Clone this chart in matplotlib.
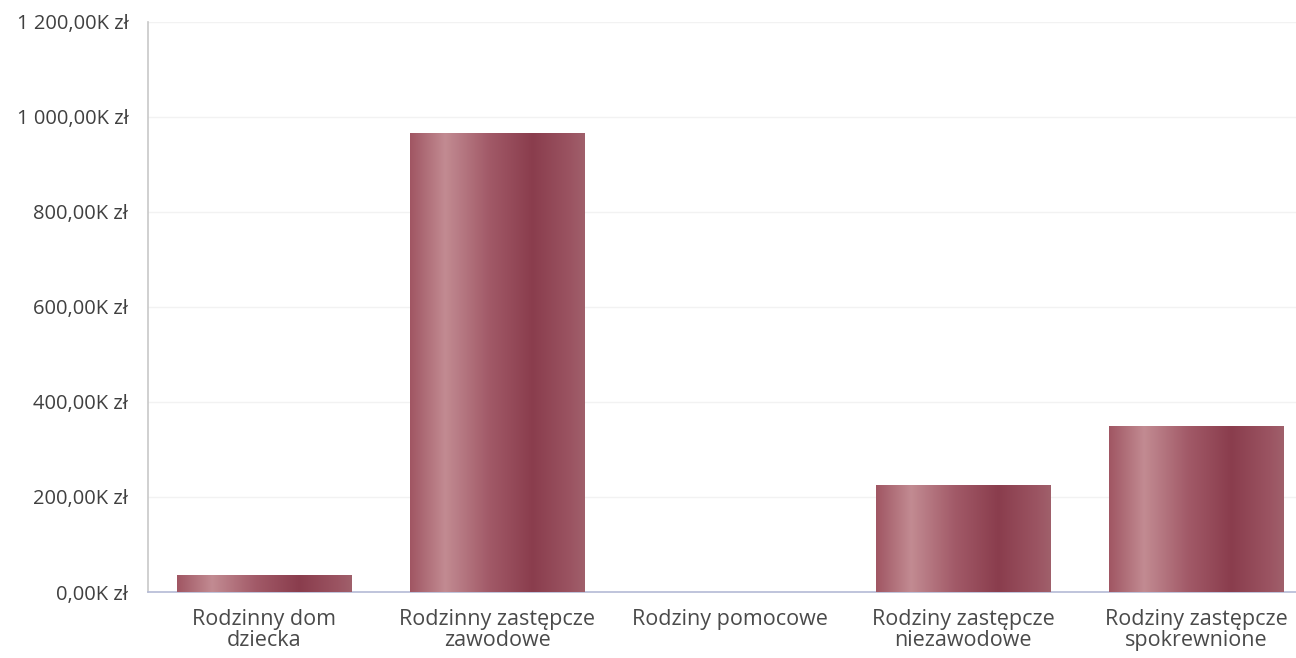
import matplotlib.pyplot as plt
import numpy as np
from matplotlib.colors import LinearSegmentedColormap
from matplotlib.ticker import FuncFormatter

# --- DATA ---
categories = ['Rodzinny dom\ndziecka', 'Rodzinny zastępcze\nzawodowe', 'Rodziny pomocowe',
              'Rodziny zastępcze\nniezawodowe', 'Rodziny zastępcze\nspokrewnione']
values_k = [36, 966, 0, 225, 349]  # thousands of zł
y_ticks = [0, 200, 400, 600, 800, 1000, 1200]

plt.rcParams['font.family'] = ['Open Sans', 'DejaVu Sans']

# cylinder-like shading across each bar
shade = LinearSegmentedColormap.from_list('cyl', [
    (0.00, '#a05663'),
    (0.20, '#c28b92'),
    (0.45, '#a25a68'),
    (0.70, '#8a3d4d'),
    (0.92, '#9b5462'),
    (1.00, '#a0606b'),
])


def fmt_k(v, pos):
    s = f"{v:,.2f}".replace(',', ' ').replace('.', ',')
    return f"{s}K zł"


fig = plt.figure(figsize=(12.96, 6.58), dpi=100)
ax = fig.add_axes([0.114, 0.1003, 0.899, 0.8663])

x = np.arange(len(categories))
bars = ax.bar(x, values_k, width=0.75, color='none', edgecolor='none', zorder=3)

grad = np.linspace(0, 1, 256).reshape(1, -1)
for b in bars:
    if b.get_height() <= 0:
        continue
    x0, y0 = b.get_x(), b.get_y()
    w, h = b.get_width(), b.get_height()
    im = ax.imshow(grad, cmap=shade, aspect='auto', extent=[x0, x0 + w, y0, y0 + h],
                   zorder=3, interpolation='bicubic')
    im.set_clip_path(b)

ax.set_xlim(-0.5, 4.5)
ax.set_ylim(0, 1200)
ax.set_yticks(y_ticks)
ax.yaxis.set_major_formatter(FuncFormatter(fmt_k))
ax.set_xticks(x)
ax.set_xticklabels(categories, linespacing=1.05)

ax.tick_params(axis='y', length=0, pad=14, labelsize=14.5, labelcolor='#404040')
ax.tick_params(axis='x', length=0, pad=12, labelsize=15.5, labelcolor='#4a4a4a')

ax.grid(axis='y', color='#f2f2f2', linewidth=1, zorder=0)
for side in ['top', 'right']:
    ax.spines[side].set_visible(False)
ax.spines['left'].set_color('#c8c8c8')
ax.spines['left'].set_linewidth(1.2)
ax.spines['bottom'].set_color('#b4bad6')
ax.spines['bottom'].set_linewidth(1.2)

fig.savefig('out.png', dpi=100)
